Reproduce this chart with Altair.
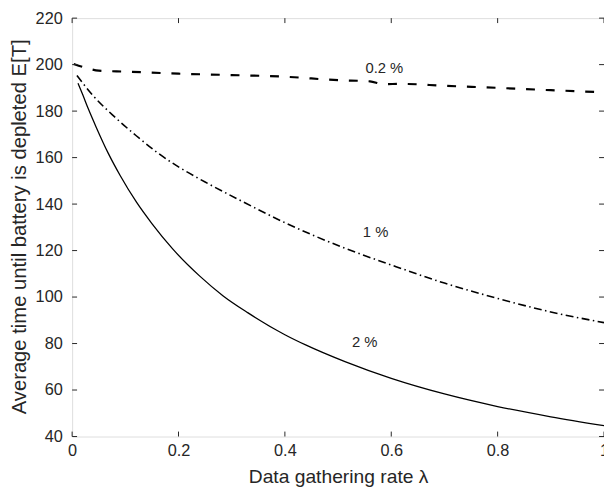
import altair as alt
import pandas as pd

# ---- data ----
x_2pct = [0.011, 0.02, 0.03, 0.045, 0.068, 0.09, 0.121, 0.15, 0.189, 0.24, 0.284, 0.33, 0.4, 0.439, 0.513, 0.6, 0.7, 0.8, 0.9, 1.0]
y_2pct = [192.0, 187.0, 181.2, 173.2, 161.8, 152.4, 140.8, 131.6, 120.7, 109.0, 100.5, 93.3, 83.8, 79.4, 72.2, 65.0, 58.3, 52.9, 48.5, 44.7]

x_1pct = [0.009, 0.04, 0.08, 0.12, 0.161, 0.2, 0.25, 0.321, 0.4, 0.513, 0.6, 0.7, 0.797, 0.9, 1.0]
y_1pct = [195.3, 186.5, 177.5, 169.5, 162.0, 156.0, 149.5, 141.0, 132.0, 121.0, 113.8, 106.0, 99.6, 93.6, 89.0]

x_02pct = [0.003, 0.026, 0.05, 0.1, 0.2, 0.3, 0.4, 0.5, 0.56, 0.585, 0.62, 0.7, 0.8, 0.9, 1.0]
y_02pct = [200.3, 198.6, 197.4, 197.0, 196.1, 195.5, 194.8, 193.3, 192.8, 191.6, 191.7, 190.9, 190.0, 189.0, 188.1]

label_text = ["0.2 %", "1 %", "2 %"]
label_x = [0.587, 0.5705, 0.550]
label_y = [196.2, 125.8, 78.7]

x_ticks = [0, 0.2, 0.4, 0.6, 0.8, 1.0]
y_ticks = [40, 60, 80, 100, 120, 140, 160, 180, 200, 220]

x_title = "Data gathering rate λ"
y_title = "Average time until battery is depleted E[T]"

W, H = 539, 424
FONT = "Liberation Sans"
TXT = "#262626"

xs = alt.Scale(domain=[0, 1], nice=False, zero=False)
ys = alt.Scale(domain=[40, 220], nice=False, zero=False)

x_axis = alt.Axis(values=x_ticks, format="~g", title=x_title, domain=False, ticks=False, tickSize=0,
                  grid=False, labelPadding=6, labelFontSize=16.5, labelFont=FONT, labelColor=TXT,
                  labelFlush=False, labelOverlap=False, titleFont=FONT, titleFontSize=19.5,
                  titleFontWeight="normal", titleColor=TXT, titleBaseline="alphabetic", titleY=46.5)
y_axis = alt.Axis(values=y_ticks, title=y_title, domain=False, ticks=False, tickSize=0, grid=False,
                  labelPadding=10, labelFontSize=16.5, labelFont=FONT, labelColor=TXT,
                  labelFlush=False, labelOverlap=False, titleFont=FONT, titleFontSize=20.5,
                  titleFontWeight="normal", titleColor=TXT, titleBaseline="alphabetic",
                  titleX=-47.5, titleY=211)

def series(xv, yv):
    return pd.DataFrame({"x": xv, "y": yv})

l2 = alt.Chart(series(x_2pct, y_2pct)).mark_line(
    color="black", strokeWidth=1.3, interpolate="monotone", clip=True
).encode(x=alt.X("x:Q", scale=xs, axis=x_axis), y=alt.Y("y:Q", scale=ys, axis=y_axis))

l1 = alt.Chart(series(x_1pct, y_1pct)).mark_line(
    color="black", strokeWidth=1.6, interpolate="monotone", strokeDash=[8, 3.5, 1.5, 3.5], clip=True
).encode(x=alt.X("x:Q", scale=xs), y=alt.Y("y:Q", scale=ys))

l02 = alt.Chart(series(x_02pct, y_02pct)).mark_line(
    color="black", strokeWidth=2.2, interpolate="monotone", strokeDash=[9, 11], clip=True
).encode(x=alt.X("x:Q", scale=xs), y=alt.Y("y:Q", scale=ys))

labels = alt.Chart(pd.DataFrame({"t": label_text, "x": label_x, "y": label_y})).mark_text(
    font=FONT, fontSize=15, color=TXT, align="center", baseline="alphabetic"
).encode(x=alt.X("x:Q", scale=xs), y=alt.Y("y:Q", scale=ys), text="t:N")

xt = pd.DataFrame({"v": x_ticks})
yt = pd.DataFrame({"v": y_ticks})
tick_color = TXT
xb = alt.Chart(xt).mark_rule(color=tick_color, strokeWidth=1).encode(
    x=alt.X("v:Q", scale=xs), y=alt.value(H), y2=alt.value(H - 5))
xtp = alt.Chart(xt).mark_rule(color=tick_color, strokeWidth=1).encode(
    x=alt.X("v:Q", scale=xs), y=alt.value(0), y2=alt.value(5))
yl = alt.Chart(yt).mark_rule(color=tick_color, strokeWidth=1).encode(
    y=alt.Y("v:Q", scale=ys), x=alt.value(0), x2=alt.value(5))
yr = alt.Chart(yt).mark_rule(color=tick_color, strokeWidth=1).encode(
    y=alt.Y("v:Q", scale=ys), x=alt.value(W), x2=alt.value(W - 5))

chart = alt.layer(l2, l1, l02, labels, xb, xtp, yl, yr).properties(
    width=W, height=H,
    autosize=alt.AutoSizeParams(type="none"),
    padding={"left": 65, "top": 7, "right": 0, "bottom": 56},
).configure_view(stroke=TXT, strokeWidth=1.2).configure(background="white")

chart.save("out.html", embed_options={"renderer": "svg", "actions": False})
